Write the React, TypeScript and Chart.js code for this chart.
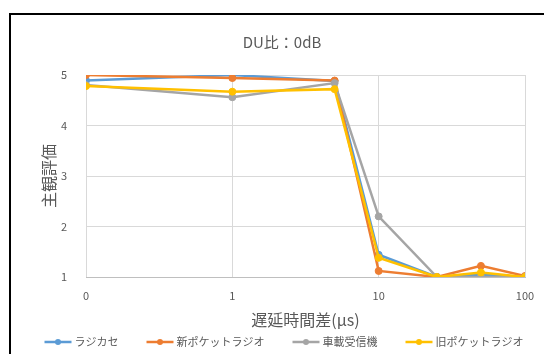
import React, { useEffect, useRef } from "react";
import { Chart, registerables } from "chart.js";

Chart.register(...registerables);

const chartTitle = "DU比：0dB";
const xAxisTitle = "遅延時間差(μs)";
const yAxisTitle = "主観評価";

// delay time differences (μs); the "0" point sits at 0.1 on the log axis
const delays = [0.1, 1, 5, 10, 25, 50, 100];
const xTickValues = [0.1, 1, 10, 100];
const xTickLabels = ["0", "1", "10", "100"];

const seriesNames = ["ラジカセ", "新ポケットラジオ", "車載受信機", "旧ポケットラジオ"];
const radioCassette = [4.89, 5.0, 4.88, 1.44, 1.0, 1.05, 1.0];
const newPocketRadio = [5.0, 4.94, 4.89, 1.12, 1.0, 1.22, 1.02];
const carReceiver = [4.8, 4.56, 4.84, 2.2, 1.0, 1.0, 1.0];
const oldPocketRadio = [4.78, 4.67, 4.72, 1.38, 1.0, 1.09, 1.0];
const seriesValues = [radioCassette, newPocketRadio, carReceiver, oldPocketRadio];
const seriesColors = ["#5B9BD5", "#ED7D31", "#A5A5A5", "#FFC000"];

const FONT = "'Noto Sans CJK JP', 'Noto Sans', sans-serif";
const TEXT = "#595959";

const legendPlugin = {
  id: "lineLegend",
  afterDraw(chart: any) {
    const ctx = chart.ctx as CanvasRenderingContext2D;
    ctx.save();
    ctx.font = `11px ${FONT}`;
    const marker = 27;
    const textGap = 3;
    const gap = 28;
    const widths = seriesNames.map((n) => marker + textGap + ctx.measureText(n).width);
    const total = widths.reduce((a, b) => a + b, 0) + gap * (widths.length - 1);
    let x = chart.width / 2 + 12 - total / 2;
    const y = 342;
    seriesNames.forEach((name, i) => {
      const c = seriesColors[i];
      ctx.strokeStyle = c;
      ctx.lineWidth = 2.5;
      ctx.beginPath();
      ctx.moveTo(x, y);
      ctx.lineTo(x + marker, y);
      ctx.stroke();
      ctx.fillStyle = c;
      ctx.beginPath();
      ctx.arc(x + marker / 2, y, 3, 0, Math.PI * 2);
      ctx.fill();
      ctx.fillStyle = TEXT;
      ctx.textAlign = "left";
      ctx.textBaseline = "middle";
      ctx.fillText(name, x + marker + textGap, y);
      x += widths[i] + gap;
    });
    ctx.restore();
  },
};

export default function App() {
  const ref = useRef<HTMLCanvasElement | null>(null);

  useEffect(() => {
    if (!ref.current) return;
    const order = [3, 2, 1, 0];
    const chart = new Chart(ref.current, {
      type: "line",
      data: {
        datasets: seriesNames.map((name, i) => ({
          label: name,
          data: delays.map((d, j) => ({ x: d, y: seriesValues[i][j] })),
          borderColor: seriesColors[i],
          backgroundColor: seriesColors[i],
          pointBackgroundColor: seriesColors[i],
          pointBorderColor: seriesColors[i],
          borderWidth: 2.5,
          pointRadius: 3.5,
          pointBorderWidth: 1,
          tension: 0,
          order: order[i],
        })),
      },
      options: {
        responsive: false,
        animation: false,
        layout: { padding: { left: 39, right: 19, top: 0, bottom: 22 } },
        plugins: {
          legend: { display: false },
          tooltip: { enabled: false },
          title: {
            display: true,
            text: chartTitle,
            color: TEXT,
            font: { family: FONT, size: 15, weight: "normal" },
            padding: { top: 33, bottom: 24 },
          },
        },
        scales: {
          x: {
            type: "logarithmic",
            min: 0.1,
            max: 100,
            afterBuildTicks: (scale: any) => {
              scale.ticks = xTickValues.map((v) => ({ value: v }));
            },
            afterFit: (scale: any) => {
              scale.height = 55;
              scale.paddingLeft = 0;
              scale.paddingRight = 0;
            },
            ticks: {
              autoSkip: false,
              maxRotation: 0,
              padding: 12,
              color: TEXT,
              font: { family: FONT, size: 11 },
              callback: (_v: any, i: number) => xTickLabels[i],
            },
            grid: { color: "#d9d9d9", drawTicks: false, lineWidth: 1 },
            border: { color: "#bfbfbf", width: 1 },
            title: {
              display: true,
              text: xAxisTitle,
              color: TEXT,
              font: { family: FONT, size: 16 },
              padding: { top: 0, bottom: 2.4 },
            },
          },
          y: {
            type: "linear",
            min: 1,
            max: 5,
            afterFit: (scale: any) => {
              scale.width = 47;
            },
            ticks: {
              stepSize: 1,
              padding: 19,
              color: TEXT,
              font: { family: FONT, size: 11 },
            },
            grid: { color: "#d9d9d9", drawTicks: false, lineWidth: 1 },
            border: { display: false },
            title: {
              display: true,
              text: yAxisTitle,
              color: TEXT,
              font: { family: FONT, size: 16 },
              padding: { top: 0, bottom: 0 },
            },
          },
        },
      },
      plugins: [legendPlugin],
    } as any);
    return () => chart.destroy();
  }, []);

  return (
    <div style={{ position: "fixed", left: 0, top: 0, width: 544, height: 354, background: "#fff", overflow: "hidden" }}>
      <canvas ref={ref} width={544} height={354} style={{ display: "block", width: 544, height: 354 }} />
      <div
        style={{
          position: "absolute",
          left: 9,
          top: 13,
          width: 535,
          height: 341,
          boxSizing: "border-box",
          borderTop: "2px solid #000",
          borderLeft: "2px solid #000",
          pointerEvents: "none",
        }}
      />
    </div>
  );
}
